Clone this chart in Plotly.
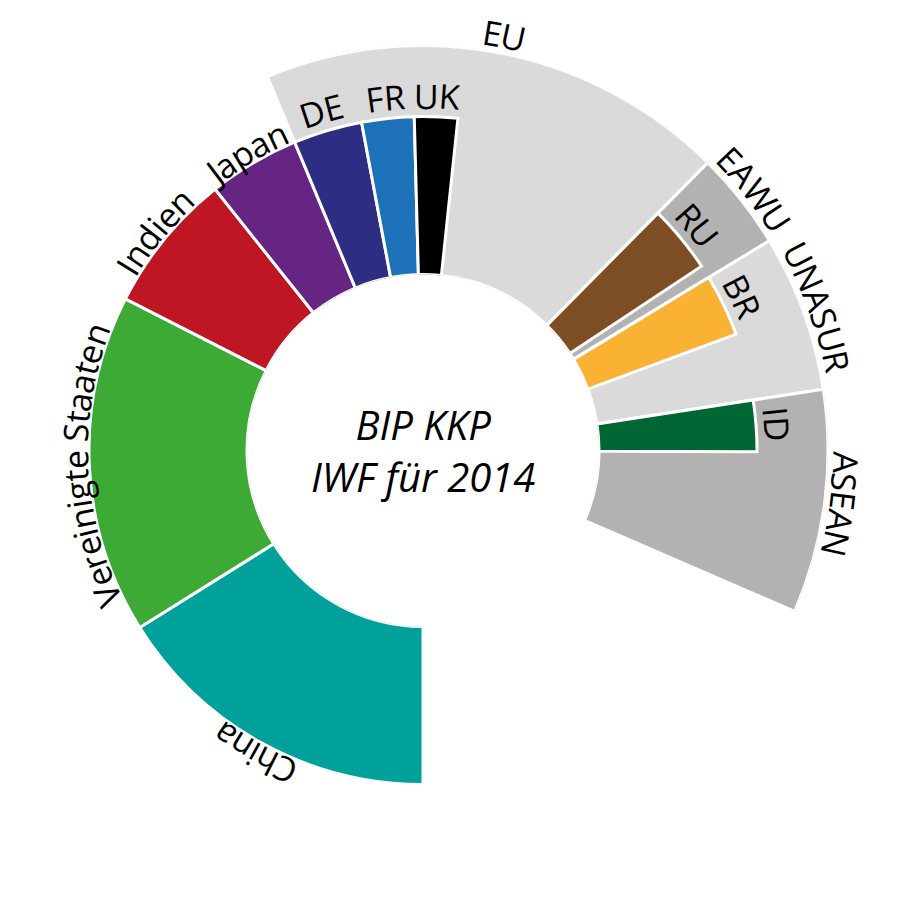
import math
import plotly.graph_objects as go

# ---------------- data (GDP PPP 2014, bn int.$, read from the angular spans) ----------------
WORLD_GDP = 108000
country_names = ["China", "Vereinigte Staaten", "Indien", "Japan"]
country_gdp = [17400, 17700, 7350, 4770]
country_colors = ["#00A19A", "#3DAA35", "#BE1622", "#662483"]

group_names = ["EU", "EAWU", "UNASUR", "ASEAN"]
group_gdp = [20190, 4230, 6750, 9630]
group_colors = ["#DADADA", "#B2B2B2", "#DADADA", "#B2B2B2"]

member_names = ["DE", "FR", "UK", "RU", "BR", "ID"]
member_group = ["EU", "EU", "EU", "EAWU", "UNASUR", "ASEAN"]
member_gdp = [3600, 2730, 2250, 3540, 3240, 2670]
member_colors = ["#2D2E83", "#1D71B8", "#000000", "#7D4E24", "#F9B233", "#006633"]

center_title = ["BIP KKP", "IWF für 2014"]

# ---------------- layout / style constants ----------------
W, H = 900, 900
START_ANGLE = 180.0
DOM_X = [0.02, 0.92]
DOM_Y = [0.0494, 0.9494]
HOLE = 0.4346
R_MEMBER = 0.69
R_GROUP = 1.0
FONT = "Open Sans"
LABEL_SIZE = 34
TITLE_SIZE = 40
COUNTRY_LABEL_GAP = 14
MEMBER_LABEL_GAP = 21
GROUP_LABEL_GAP = 18

CX = (DOM_X[0] + DOM_X[1]) / 2 * W
CY = (1 - (DOM_Y[0] + DOM_Y[1]) / 2) * H
RPX = (DOM_X[1] - DOM_X[0]) / 2 * W


def deg(v):
    return v / WORLD_GDP * 360.0


def r_to_px(r):
    return RPX * (HOLE + (1 - HOLE) * r)


# angular layout
c_theta, c_width = [], []
angle = START_ANGLE
for v in country_gdp:
    w = deg(v)
    c_theta.append(angle + w / 2)
    c_width.append(w)
    angle += w

g_theta, g_width = [], []
m_theta = [None] * len(member_names)
m_width = [None] * len(member_names)
for gname, gv in zip(group_names, group_gdp):
    w = deg(gv)
    g_theta.append(angle + w / 2)
    g_width.append(w)
    sub = angle
    for i, (mg, mv) in enumerate(zip(member_group, member_gdp)):
        if mg == gname:
            mw = deg(mv)
            m_theta[i] = sub + mw / 2
            m_width[i] = mw
            sub += mw
    angle += w

line = dict(color="white", width=3)
fig = go.Figure()
fig.add_trace(go.Barpolar(r=[R_GROUP] * len(group_names), theta=g_theta, width=g_width,
                          marker=dict(color=group_colors, line=line), name="Gruppen",
                          hovertext=group_names))
fig.add_trace(go.Barpolar(r=[R_MEMBER] * len(country_names), theta=c_theta, width=c_width,
                          marker=dict(color=country_colors, line=line), name="Länder",
                          hovertext=country_names))
fig.add_trace(go.Barpolar(r=[R_MEMBER] * len(member_names), theta=m_theta, width=m_width,
                          marker=dict(color=member_colors, line=line), name="Mitglieder",
                          hovertext=member_names))

# approximate Open Sans advance widths (em)
CW = {" ": 0.26, "A": 0.633, "B": 0.648, "C": 0.631, "D": 0.729, "E": 0.556, "F": 0.516,
      "I": 0.279, "J": 0.266, "K": 0.614, "N": 0.754, "P": 0.604, "R": 0.619, "S": 0.547,
      "U": 0.719, "W": 0.928, "V": 0.59, "a": 0.556, "d": 0.613, "e": 0.561, "g": 0.548,
      "h": 0.614, "i": 0.253, "n": 0.614, "p": 0.613, "r": 0.408, "t": 0.353}

annotations = []


def curved_label(text, theta_c, r_px, size):
    widths = [CW.get(ch, 0.55) * size for ch in text]
    total = sum(widths)
    start = math.radians(theta_c) - total / r_px / 2
    cum = 0.0
    for ch, w in zip(text, widths):
        a = start + (cum + w / 2) / r_px
        cum += w
        if ch == " ":
            continue
        x = CX + r_px * math.sin(a)
        y = CY - r_px * math.cos(a)
        ang = (math.degrees(a) + 180) % 360 - 180
        annotations.append(dict(x=x / W, y=1 - y / H, xref="paper", yref="paper", text=ch,
                                showarrow=False, textangle=ang, xanchor="center",
                                yanchor="middle", borderpad=0,
                                font=dict(family=FONT, size=size, color="black")))


for n, t in zip(country_names, c_theta):
    curved_label(n, t, r_to_px(R_MEMBER) + COUNTRY_LABEL_GAP, LABEL_SIZE)
for n, t in zip(member_names, m_theta):
    curved_label(n, t, r_to_px(R_MEMBER) + MEMBER_LABEL_GAP, LABEL_SIZE)
for n, t in zip(group_names, g_theta):
    curved_label(n, t, r_to_px(R_GROUP) + GROUP_LABEL_GAP, LABEL_SIZE)

annotations.append(dict(x=CX / W, y=1 - CY / H, xref="paper", yref="paper",
                        text="<br>".join(center_title), showarrow=False,
                        xanchor="center", yanchor="middle",
                        font=dict(family=FONT, size=TITLE_SIZE, color="black", style="italic")))

fig.update_layout(
    width=W, height=H, margin=dict(l=0, r=0, t=0, b=0),
    paper_bgcolor="white", showlegend=False,
    polar=dict(domain=dict(x=DOM_X, y=DOM_Y), hole=HOLE, barmode="overlay",
               bgcolor="white",
               angularaxis=dict(rotation=90, direction="clockwise", visible=False),
               radialaxis=dict(range=[0, 1], visible=False)),
    annotations=annotations,
)
fig.write_html("out.html")
